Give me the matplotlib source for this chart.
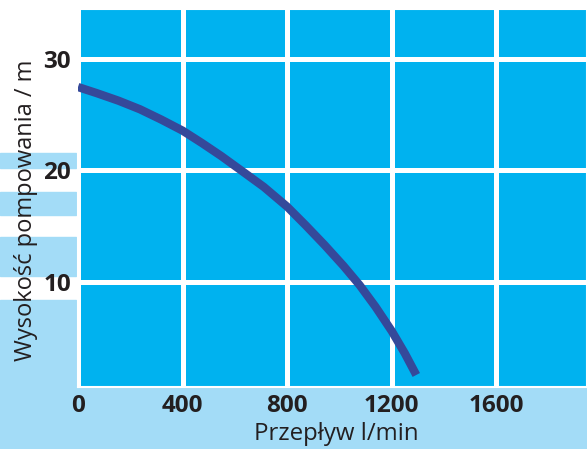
import matplotlib
matplotlib.use("Agg")
import matplotlib.pyplot as plt
from matplotlib.patches import Rectangle

# pump curve
flow = [0, 73, 155, 237, 318, 400, 474, 548, 631, 711, 800, 870, 943, 1016, 1077, 1138, 1200, 1250, 1294]
head = [27.49, 26.93, 26.26, 25.49, 24.57, 23.57, 22.46, 21.29, 19.88, 18.51, 16.74, 15.09, 13.30,
        11.41, 9.70, 7.75, 5.57, 3.57, 1.62]

xticks = [0, 400, 800, 1200, 1600]
yticks = [10, 20, 30]

W, H = 587, 449
plot_bg = "#00b2ef"
page_bg = "#a3dcf7"
line_col = "#35499a"
text_col = "#231f20"

plt.rcParams['font.family'] = ['Open Sans', 'DejaVu Sans']

fig = plt.figure(figsize=(W / 100, H / 100), dpi=100, facecolor="white")

# light blue page bands behind the left labels and under the plot (pixel rows from top)
def band(x0, x1, y0, y1):
    fig.patches.append(Rectangle((x0 / W, 1 - y1 / H), (x1 - x0) / W, (y1 - y0) / H,
                                 transform=fig.transFigure, color=page_bg, zorder=-5))

band(0, 76, 153, 168)
band(0, 76, 192, 215)
band(0, 76, 237, 276)
band(0, 76, 300, 390)
band(0, W, 388, H)

ax = fig.add_axes([78 / W, (H - 387) / H, (W - 78) / W, (387 - 9) / H])
ax.set_facecolor(plot_bg)
ax.set_xlim(0, 1947)
ax.set_ylim(0.54, 34.5)

ax.plot(flow, head, color=line_col, lw=6, solid_capstyle="butt", solid_joinstyle="round", zorder=3)

ax.set_xticks(xticks)
ax.set_yticks(yticks)
ax.set_xticklabels([str(v) for v in xticks], fontsize=17.5, fontweight="bold", color=text_col)
ax.set_yticklabels([str(v) for v in yticks], fontsize=17.5, fontweight="bold", color=text_col)
ax.tick_params(length=0, pad=5)
ax.grid(color="white", lw=3.6)
ax.set_axisbelow(True)
for s in ax.spines.values():
    s.set_color("white")
    s.set_linewidth(1.5)

ax.set_xlabel("Przepływ l/min", fontsize=17.3, color=text_col, labelpad=3)
ax.set_ylabel("Wysokość pompowania / m", fontsize=17, color=text_col, labelpad=4)
ax.xaxis.label.set_x(0.508)
ax.yaxis.label.set_y(0.468)

fig.savefig("out.png", dpi=100, facecolor="white")
